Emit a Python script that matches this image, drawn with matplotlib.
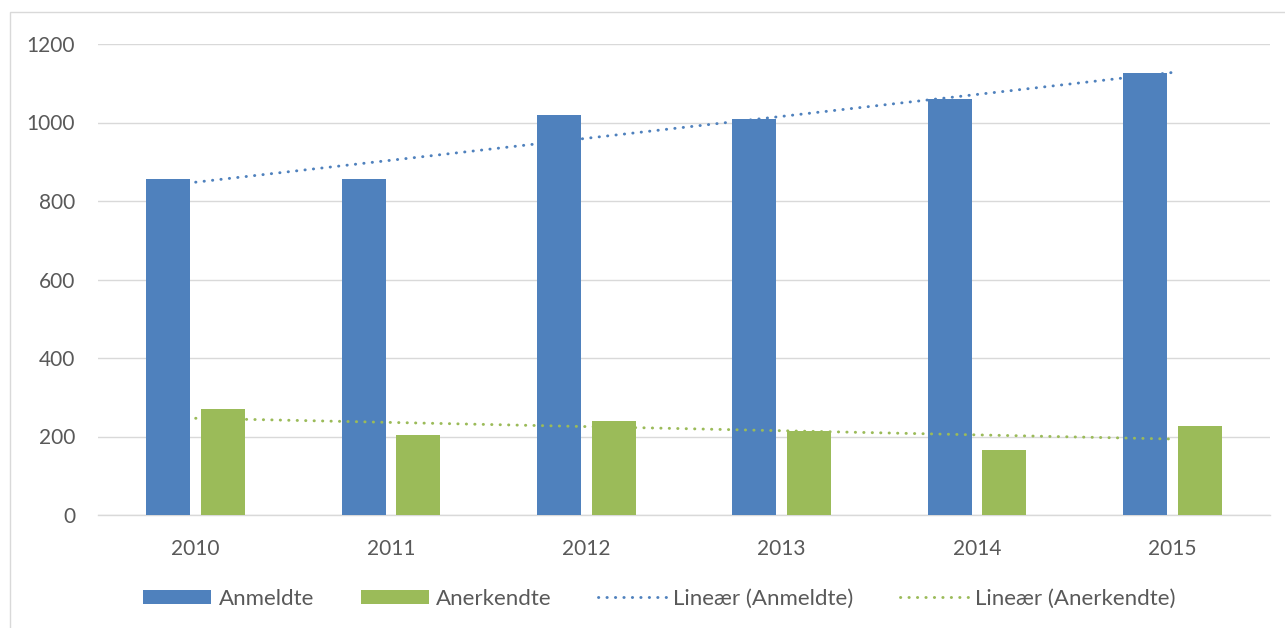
import matplotlib
matplotlib.use("Agg")
import matplotlib.pyplot as plt
import numpy as np
from matplotlib.patches import Rectangle

years = ["2010", "2011", "2012", "2013", "2014", "2015"]
anmeldte = [856, 856, 1019, 1008, 1060, 1127]
anerkendte = [271, 205, 239, 214, 165, 226]
yticks = [0, 200, 400, 600, 800, 1000, 1200]

BLUE = "#4F81BD"
GREEN = "#9BBB59"
TXT = "#595959"
GRID = "#D9D9D9"

plt.rcParams['font.family'] = ['Lato', 'DejaVu Sans']

fig = plt.figure(figsize=(12.85, 6.28), dpi=100)
fig.patches.append(Rectangle((10/1285, -0.01), 1.02, 1 - 12/628 + 0.01,
                             transform=fig.transFigure, fill=False,
                             edgecolor=GRID, linewidth=1))
ax = fig.add_axes([98/1285, 1 - 515/628, (1270 - 98)/1285, (515 - 44)/628])

x = np.arange(len(years))
w = 0.225
off = 0.14
b1 = ax.bar(x - off, anmeldte, width=w, color=BLUE, label="Anmeldte", zorder=3)
b2 = ax.bar(x + off, anerkendte, width=w, color=GREEN, label="Anerkendte", zorder=3)

p1 = np.polyfit(x, anmeldte, 1)
p2 = np.polyfit(x, anerkendte, 1)
ls = (0, (0.1, 2.8))
l1, = ax.plot(x, np.polyval(p1, x), color=BLUE, lw=2.1, linestyle=ls,
              dash_capstyle='round', label="Lineær (Anmeldte)", zorder=4)
l2, = ax.plot(x, np.polyval(p2, x), color=GREEN, lw=2.1, linestyle=ls,
              dash_capstyle='round', label="Lineær (Anerkendte)", zorder=4)

ax.set_xlim(-0.5, len(years) - 0.5)
ax.set_ylim(0, 1200)
ax.set_yticks(yticks)
ax.set_yticklabels([str(v) for v in yticks])
ax.set_xticks(x)
ax.set_xticklabels(years)
ax.grid(axis='y', color=GRID, linewidth=1, zorder=0)
for s in ['top', 'right', 'left']:
    ax.spines[s].set_visible(False)
ax.spines['bottom'].set_color(GRID)
ax.spines['bottom'].set_linewidth(1)
ax.tick_params(axis='both', length=0, labelsize=15, colors=TXT)
ax.tick_params(axis='y', pad=16.5)
ax.tick_params(axis='x', pad=17)

leg = fig.legend([b1, b2, l1, l2],
                 ["Anmeldte", "Anerkendte", "Lineær (Anmeldte)", "Lineær (Anerkendte)"],
                 loc='center', bbox_to_anchor=(0.5 + 17/1285, 1 - 599/628), ncol=4,
                 frameon=False, fontsize=16, handlelength=3.06,
                 handleheight=0.62, handletextpad=0.32, columnspacing=2.1)
for t in leg.get_texts():
    t.set_color(TXT)

fig.savefig("out.png", dpi=100)
